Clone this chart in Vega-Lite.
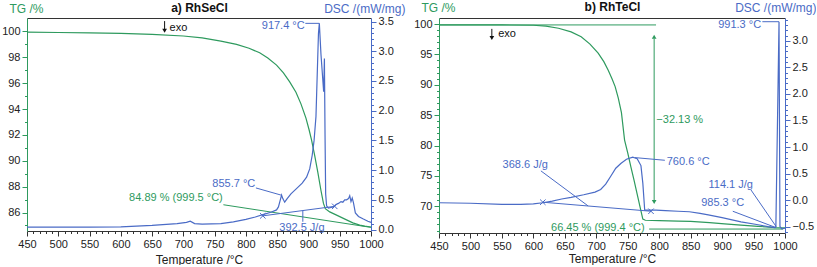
{
"$schema":"https://vega.github.io/schema/vega-lite/v6.json",
"padding":{"left":1,"top":0,"right":0,"bottom":0},
"spacing":68,
"bounds":"flush",
"config":{"font":"Liberation Sans","view":{"stroke":null},
 "axis":{"labelFont":"Liberation Sans","labelFontSize":11,"labelColor":"#222","titleFont":"Liberation Sans","titleFontSize":12,"titleFontWeight":"normal","grid":false,"labelOverlap":false,"labelFlush":false,"tickWidth":1,"domainWidth":1,"labelPadding":2}},
"datasets":{
 "tgA":[{"T":450,"v":99.95},{"T":500,"v":99.92},{"T":550,"v":99.89},{"T":600,"v":99.85},{"T":650,"v":99.78},{"T":700,"v":99.65},{"T":730,"v":99.5},{"T":760,"v":99.25},{"T":785,"v":99.0},{"T":805,"v":98.7},{"T":822,"v":98.35},{"T":835,"v":97.95},{"T":849,"v":97.4},{"T":860,"v":96.8},{"T":870,"v":96.1},{"T":880,"v":95.3},{"T":888,"v":94.4},{"T":896,"v":93.3},{"T":901,"v":92.4},{"T":905,"v":91.6},{"T":910,"v":90.4},{"T":915,"v":89.1},{"T":920,"v":87.7},{"T":924,"v":86.7},{"T":927,"v":86.3},{"T":934,"v":86.05},{"T":945,"v":85.8},{"T":960,"v":85.45},{"T":971,"v":85.2},{"T":982,"v":85.02},{"T":990,"v":84.95},{"T":1000,"v":84.88}],
 "dscA":[{"T":450,"v":0.04},{"T":500,"v":0.04},{"T":550,"v":0.04},{"T":600,"v":0.045},{"T":650,"v":0.07},{"T":690,"v":0.1},{"T":705,"v":0.12},{"T":711,"v":0.14},{"T":718,"v":0.1},{"T":730,"v":0.09},{"T":760,"v":0.1},{"T":780,"v":0.13},{"T":800,"v":0.17},{"T":815,"v":0.21},{"T":827,"v":0.25},{"T":840,"v":0.29},{"T":849,"v":0.33},{"T":852,"v":0.38},{"T":855,"v":0.5},{"T":857,"v":0.58},{"T":859,"v":0.52},{"T":862,"v":0.46},{"T":866,"v":0.52},{"T":872,"v":0.6},{"T":880,"v":0.68},{"T":890,"v":0.78},{"T":897,"v":0.88},{"T":902,"v":1.02},{"T":906,"v":1.25},{"T":909,"v":1.5},{"T":912,"v":1.9},{"T":914,"v":2.6},{"T":916,"v":3.3},{"T":917.4,"v":3.47},{"T":920,"v":2.95},{"T":924.3,"v":2.32},{"T":925.5,"v":2.88},{"T":926.5,"v":1.6},{"T":927.5,"v":0.6},{"T":929,"v":0.4},{"T":932,"v":0.36},{"T":936,"v":0.37},{"T":940,"v":0.38},{"T":944,"v":0.42},{"T":948,"v":0.44},{"T":952,"v":0.47},{"T":955,"v":0.46},{"T":958,"v":0.5},{"T":961,"v":0.5},{"T":964,"v":0.52},{"T":966,"v":0.57},{"T":968,"v":0.47},{"T":970,"v":0.53},{"T":972,"v":0.45},{"T":975,"v":0.28},{"T":980,"v":0.22},{"T":987,"v":0.18},{"T":995,"v":0.14},{"T":1000,"v":0.12}],
 "tgB":[{"T":450,"v":99.85},{"T":500,"v":99.85},{"T":550,"v":99.85},{"T":600,"v":99.8},{"T":620,"v":99.65},{"T":640,"v":99.3},{"T":660,"v":98.7},{"T":676,"v":97.9},{"T":690,"v":96.7},{"T":703,"v":95.2},{"T":712,"v":93.8},{"T":719,"v":92.4},{"T":725,"v":91.0},{"T":730,"v":89.7},{"T":735,"v":87.8},{"T":740,"v":85.4},{"T":745,"v":80.9},{"T":750,"v":78.8},{"T":755,"v":76.5},{"T":760,"v":74.3},{"T":765,"v":72.0},{"T":770,"v":69.7},{"T":774,"v":67.9},{"T":778,"v":67.7},{"T":800,"v":67.65},{"T":830,"v":67.55},{"T":850,"v":67.5},{"T":880,"v":67.3},{"T":904,"v":67.1},{"T":930,"v":66.9},{"T":957,"v":66.7},{"T":985,"v":66.5},{"T":1000,"v":66.45}],
 "dscB":[{"T":450,"v":-0.05},{"T":500,"v":-0.06},{"T":550,"v":-0.08},{"T":580,"v":-0.08},{"T":600,"v":-0.07},{"T":615,"v":-0.05},{"T":630,"v":-0.02},{"T":645,"v":0.02},{"T":660,"v":0.05},{"T":680,"v":0.1},{"T":698,"v":0.15},{"T":707,"v":0.2},{"T":715,"v":0.3},{"T":723,"v":0.45},{"T":731,"v":0.6},{"T":739,"v":0.69},{"T":748,"v":0.77},{"T":758,"v":0.81},{"T":765,"v":0.78},{"T":771,"v":0.65},{"T":774,"v":0.32},{"T":777,"v":-0.19},{"T":781,"v":-0.19},{"T":795,"v":-0.19},{"T":810,"v":-0.2},{"T":830,"v":-0.21},{"T":848,"v":-0.22},{"T":865,"v":-0.25},{"T":878,"v":-0.28},{"T":900,"v":-0.33},{"T":930,"v":-0.41},{"T":955,"v":-0.46},{"T":973,"v":-0.5},{"T":984,"v":-0.52},{"T":985.5,"v":-0.5},{"T":990.5,"v":3.36},{"T":992,"v":-0.5},{"T":995,"v":-0.54},{"T":1000,"v":-0.53}],
 "tgAlines":[{"T":764,"v":86.6,"T2":1000,"v2":84.85}],
 "tgAtextR":[{"T":763,"v":87.1,"label":"84.89 % (999.5 °C)"}],
 "exoA":[{"T":670,"v":100.8,"v2":100.05}],
 "exoAtext":[{"T":678,"v":100.3,"label":"exo"}],
 "dscAlines":[{"T":895,"v":3.47,"T2":917.4,"v2":3.47},{"T":816,"v":0.7,"T2":856,"v2":0.58},{"T":891,"v":0.32,"T2":891,"v2":0.13},{"T":827,"v":0.23,"T2":942,"v2":0.39}],
 "dscAx":[{"T":827,"v":0.23},{"T":942,"v":0.39}],
 "dscAtextR":[{"T":894,"v":3.43,"label":"917.4 °C"},{"T":815,"v":0.77,"label":"855.7 °C"}],
 "dscAtextC":[{"T":889.5,"v":0.03,"label":"392.5 J/g"}],
 "tgBlines":[{"T":450,"v":99.85,"T2":795,"v2":99.85},{"T":784,"v":66.25,"T2":997,"v2":66.25},{"T":792,"v":97.6,"T2":792,"v2":71.0}],
 "tgBup":[{"T":792,"v":97.9}],
 "tgBdown":[{"T":792,"v":70.7}],
 "tgBtextR":[{"T":777,"v":66.5,"label":"66.45 % (999.4 °C)"}],
 "tgBtextL":[{"T":795.5,"v":84.2,"label":"−32.13 %"}],
 "exoB":[{"T":534,"v":99.2,"v2":97.7}],
 "exoBtext":[{"T":544,"v":98.35,"label":"exo"}],
 "dscBlines":[{"T":964,"v":3.36,"T2":990.5,"v2":3.36},{"T":761.6,"v":0.8,"T2":809,"v2":0.75},{"T":612,"v":0.55,"T2":687,"v2":-0.11},{"T":946,"v":0.19,"T2":986,"v2":-0.5},{"T":917,"v":-0.21,"T2":986,"v2":-0.52},{"T":615,"v":-0.04,"T2":787,"v2":-0.21}],
 "dscBx":[{"T":615,"v":-0.04},{"T":787,"v":-0.21}],
 "dscBtextR":[{"T":962,"v":3.3,"label":"991.3 °C"},{"T":623,"v":0.66,"label":"368.6 J/g"},{"T":949,"v":0.28,"label":"114.1 J/g"},{"T":935,"v":-0.06,"label":"985.3 °C"}],
 "dscBtextL":[{"T":812,"v":0.72,"label":"760.6 °C"}]
},
"hconcat":[
 {
  "width":344,"height":213,
  "resolve":{"scale":{"y":"independent"},"axis":{"x":"independent"}},
  "layer":[
   {
    "encoding":{
     "x":{"field":"T","type":"quantitative","scale":{"domain":[450,1000],"nice":false,"zero":false},
      "axis":{"orient":"bottom","title":"Temperature /°C","titleColor":"#222","titlePadding":5,"domainColor":"#333","tickColor":"#333","format":"d",
       "values":[450,460,470,480,490,500,510,520,530,540,550,560,570,580,590,600,610,620,630,640,650,660,670,680,690,700,710,720,730,740,750,760,770,780,790,800,810,820,830,840,850,860,870,880,890,900,910,920,930,940,950,960,970,980,990,1000],
       "labelExpr":"datum.value % 50 === 0 ? datum.label : ''",
       "tickSize":{"condition":{"test":"datum.value % 50 === 0","value":5},"value":2.5}}},
     "y":{"field":"v","type":"quantitative","scale":{"domain":[84.57,101.04],"nice":false,"zero":false},
      "axis":{"orient":"left","title":"TG /%","titleAngle":0,"titleAlign":"left","titleBaseline":"middle","titleX":-18,"titleY":-10,"titleColor":"#2e9a5e","domainColor":"#2e9a5e","tickColor":"#2e9a5e",
       "values":[85,86,87,88,89,90,91,92,93,94,95,96,97,98,99,100],
       "labelExpr":"datum.value % 2 === 0 ? datum.label : ''",
       "tickSize":{"condition":{"test":"datum.value % 2 === 0","value":5},"value":2.5}}}
    },
    "layer":[
     {"data":{"name":"tgA"},"mark":{"type":"line","color":"#2e9a5e","strokeWidth":1.2}},
     {"data":{"name":"tgAlines"},"mark":{"type":"rule","color":"#2e9a5e","strokeWidth":1},"encoding":{"x2":{"field":"T2"},"y2":{"field":"v2"}}},
     {"data":{"name":"tgAtextR"},"mark":{"type":"text","align":"right","baseline":"middle","color":"#2e9a5e","fontSize":11},"encoding":{"text":{"field":"label"}}},
     {"data":{"name":"exoA"},"mark":{"type":"rule","color":"#111","strokeWidth":1},"encoding":{"y2":{"field":"v2"}}},
     {"data":{"name":"exoA"},"mark":{"type":"point","shape":"triangle-down","filled":true,"color":"#111","size":22,"opacity":1},"encoding":{"y":{"field":"v2","type":"quantitative"}}},
     {"data":{"name":"exoAtext"},"mark":{"type":"text","align":"left","baseline":"middle","color":"#111","fontSize":11},"encoding":{"text":{"field":"label"}}}
    ]
   },
   {
    "encoding":{
     "x":{"field":"T","type":"quantitative","scale":{"domain":[450,1000],"nice":false,"zero":false},
      "axis":{"orient":"top","title":"a) RhSeCl","titleFontWeight":"bold","titleColor":"#111","titlePadding":4,"labels":false,"ticks":false,"domainColor":"#333"}},
     "y":{"field":"v","type":"quantitative","scale":{"domain":[-0.025,3.56],"nice":false,"zero":false},
      "axis":{"orient":"right","title":"DSC /(mW/mg)","titleAngle":0,"titleAlign":"right","titleBaseline":"middle","titleX":34,"titleY":-10,"titleColor":"#4a6bc6","domainColor":"#4a6bc6","tickColor":"#4a6bc6","format":".1f",
       "values":[0,0.1,0.2,0.3,0.4,0.5,0.6,0.7,0.8,0.9,1,1.1,1.2,1.3,1.4,1.5,1.6,1.7,1.8,1.9,2,2.1,2.2,2.3,2.4,2.5,2.6,2.7,2.8,2.9,3,3.1,3.2,3.3,3.4,3.5],
       "labelExpr":"abs(datum.value*2 - round(datum.value*2)) < 0.01 ? datum.label : ''",
       "tickSize":{"condition":{"test":"abs(datum.value*2 - round(datum.value*2)) < 0.01","value":5},"value":2.5}}}
    },
    "layer":[
     {"data":{"name":"dscA"},"mark":{"type":"line","color":"#4a6bc6","strokeWidth":1.2}},
     {"data":{"name":"dscAlines"},"mark":{"type":"rule","color":"#4a6bc6","strokeWidth":1},"encoding":{"x2":{"field":"T2"},"y2":{"field":"v2"}}},
     {"data":{"name":"dscAx"},"mark":{"type":"point","shape":"M-1,-1L1,1M1,-1L-1,1","filled":false,"color":"#4a6bc6","size":30,"strokeWidth":1,"opacity":1}},
     {"data":{"name":"dscAtextR"},"mark":{"type":"text","align":"right","baseline":"middle","color":"#4a6bc6","fontSize":11},"encoding":{"text":{"field":"label"}}},
     {"data":{"name":"dscAtextC"},"mark":{"type":"text","align":"center","baseline":"middle","color":"#4a6bc6","fontSize":11},"encoding":{"text":{"field":"label"}}}
    ]
   }
  ]
 },
 {
  "width":346,"height":215,
  "resolve":{"scale":{"y":"independent"},"axis":{"x":"independent"}},
  "layer":[
   {
    "encoding":{
     "x":{"field":"T","type":"quantitative","scale":{"domain":[450,1000],"nice":false,"zero":false},
      "axis":{"orient":"bottom","title":"Temperature /°C","titleColor":"#222","titlePadding":2,"domainColor":"#333","tickColor":"#333","format":"d",
       "values":[450,460,470,480,490,500,510,520,530,540,550,560,570,580,590,600,610,620,630,640,650,660,670,680,690,700,710,720,730,740,750,760,770,780,790,800,810,820,830,840,850,860,870,880,890,900,910,920,930,940,950,960,970,980,990,1000],
       "labelExpr":"datum.value % 50 === 0 ? datum.label : ''",
       "tickSize":{"condition":{"test":"datum.value % 50 === 0","value":5},"value":2.5}}},
     "y":{"field":"v","type":"quantitative","scale":{"domain":[65.6,100.99],"nice":false,"zero":false},
      "axis":{"orient":"left","title":"TG /%","titleAngle":0,"titleAlign":"left","titleBaseline":"middle","titleX":-18,"titleY":-11,"titleColor":"#2e9a5e","domainColor":"#2e9a5e","tickColor":"#2e9a5e",
       "values":[66,67,68,69,70,71,72,73,74,75,76,77,78,79,80,81,82,83,84,85,86,87,88,89,90,91,92,93,94,95,96,97,98,99,100],
       "labelExpr":"datum.value % 5 === 0 ? datum.label : ''",
       "tickSize":{"condition":{"test":"datum.value % 5 === 0","value":5},"value":2.5}}}
    },
    "layer":[
     {"data":{"name":"tgB"},"mark":{"type":"line","color":"#2e9a5e","strokeWidth":1.2}},
     {"data":{"name":"tgBlines"},"mark":{"type":"rule","color":"#2e9a5e","strokeWidth":1},"encoding":{"x2":{"field":"T2"},"y2":{"field":"v2"}}},
     {"data":{"name":"tgBup"},"mark":{"type":"point","shape":"triangle-up","filled":true,"color":"#2e9a5e","size":22,"opacity":1}},
     {"data":{"name":"tgBdown"},"mark":{"type":"point","shape":"triangle-down","filled":true,"color":"#2e9a5e","size":22,"opacity":1}},
     {"data":{"name":"tgBtextR"},"mark":{"type":"text","align":"right","baseline":"middle","color":"#2e9a5e","fontSize":11},"encoding":{"text":{"field":"label"}}},
     {"data":{"name":"tgBtextL"},"mark":{"type":"text","align":"left","baseline":"middle","color":"#2e9a5e","fontSize":11},"encoding":{"text":{"field":"label"}}},
     {"data":{"name":"exoB"},"mark":{"type":"rule","color":"#111","strokeWidth":1},"encoding":{"y2":{"field":"v2"}}},
     {"data":{"name":"exoB"},"mark":{"type":"point","shape":"triangle-down","filled":true,"color":"#111","size":22,"opacity":1},"encoding":{"y":{"field":"v2","type":"quantitative"}}},
     {"data":{"name":"exoBtext"},"mark":{"type":"text","align":"left","baseline":"middle","color":"#111","fontSize":11},"encoding":{"text":{"field":"label"}}}
    ]
   },
   {
    "encoding":{
     "x":{"field":"T","type":"quantitative","scale":{"domain":[450,1000],"nice":false,"zero":false},
      "axis":{"orient":"top","title":"b) RhTeCl","titleFontWeight":"bold","titleColor":"#111","titlePadding":5,"labels":false,"ticks":false,"domainColor":"#333"}},
     "y":{"field":"v","type":"quantitative","scale":{"domain":[-0.62,3.43],"nice":false,"zero":false},
      "axis":{"orient":"right","title":"DSC /(mW/mg)","titleAngle":0,"titleAlign":"right","titleBaseline":"middle","titleX":31,"titleY":-11,"titleColor":"#4a6bc6","domainColor":"#4a6bc6","tickColor":"#4a6bc6","format":".1f",
       "values":[-0.6,-0.5,-0.4,-0.3,-0.2,-0.1,0,0.1,0.2,0.3,0.4,0.5,0.6,0.7,0.8,0.9,1,1.1,1.2,1.3,1.4,1.5,1.6,1.7,1.8,1.9,2,2.1,2.2,2.3,2.4,2.5,2.6,2.7,2.8,2.9,3,3.1,3.2,3.3,3.4],
       "labelExpr":"abs(datum.value*2 - round(datum.value*2)) < 0.01 ? datum.label : ''",
       "tickSize":{"condition":{"test":"abs(datum.value*2 - round(datum.value*2)) < 0.01","value":5},"value":2.5}}}
    },
    "layer":[
     {"data":{"name":"dscB"},"mark":{"type":"line","color":"#4a6bc6","strokeWidth":1.2}},
     {"data":{"name":"dscBlines"},"mark":{"type":"rule","color":"#4a6bc6","strokeWidth":1},"encoding":{"x2":{"field":"T2"},"y2":{"field":"v2"}}},
     {"data":{"name":"dscBx"},"mark":{"type":"point","shape":"M-1,-1L1,1M1,-1L-1,1","filled":false,"color":"#4a6bc6","size":30,"strokeWidth":1,"opacity":1}},
     {"data":{"name":"dscBtextR"},"mark":{"type":"text","align":"right","baseline":"middle","color":"#4a6bc6","fontSize":11},"encoding":{"text":{"field":"label"}}},
     {"data":{"name":"dscBtextL"},"mark":{"type":"text","align":"left","baseline":"middle","color":"#4a6bc6","fontSize":11},"encoding":{"text":{"field":"label"}}}
    ]
   }
  ]
 }
]
}
